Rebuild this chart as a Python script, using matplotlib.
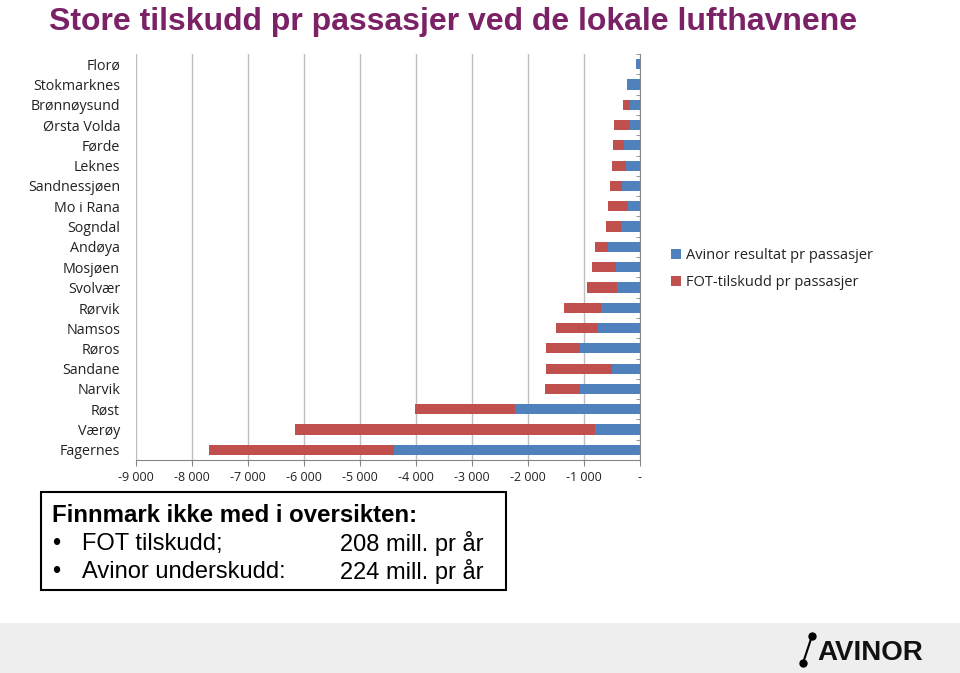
import matplotlib
matplotlib.use("Agg")
import matplotlib.pyplot as plt
from matplotlib.patches import Rectangle
from matplotlib.lines import Line2D
from matplotlib.ticker import FuncFormatter
import numpy as np

airports = ["Florø", "Stokmarknes", "Brønnøysund", "Ørsta Volda", "Førde", "Leknes",
            "Sandnessjøen", "Mo i Rana", "Sogndal", "Andøya", "Mosjøen", "Svolvær",
            "Rørvik", "Namsos", "Røros", "Sandane", "Narvik", "Røst", "Værøy", "Fagernes"]
avinor_result = [-75, -240, -170, -180, -290, -250, -330, -220, -335, -580, -420, -405,
                 -700, -755, -1065, -505, -1065, -2230, -800, -4400]
fot_subsidy = [0, 0, -125, -285, -185, -250, -200, -345, -265, -225, -445, -535,
               -655, -750, -620, -1180, -635, -1785, -5360, -3295]
x_ticks = list(range(-9000, 1, 1000))

BLUE = "#4F81BD"
RED = "#C0504D"
PURPLE = "#7B2266"
W, H = 960, 673

fig = plt.figure(figsize=(9.6, 6.73), dpi=100)

def fx(px):
    return px / W

def fy(py):
    return 1 - py / H

# bottom gray band
fig.patches.append(Rectangle((0, 0), 1, fy(623), transform=fig.transFigure,
                             facecolor="#EEEEEE", edgecolor="none", zorder=0))

# title
fig.text(fx(453), fy(22), "Store tilskudd pr passasjer ved de lokale lufthavnene",
         ha="center", va="center", fontsize=23, fontweight="bold", color=PURPLE,
         family="Liberation Sans")

ax = fig.add_axes([fx(136), fy(460), fx(640) - fx(136), fy(54) - fy(460)])
y = np.arange(len(airports))
ax.barh(y, avinor_result, height=0.5, color=BLUE, label="Avinor resultat pr passasjer", zorder=3)
ax.barh(y, fot_subsidy, left=avinor_result, height=0.5, color=RED,
        label="FOT-tilskudd pr passasjer", zorder=3)

ax.set_ylim(len(airports) - 0.5, -0.5)
ax.set_xlim(-9000, 0)
ax.set_xticks(x_ticks)
ax.xaxis.set_major_formatter(FuncFormatter(
    lambda v, p: "-" if v == 0 else f"{int(v):,}".replace(",", " ")))
ax.set_yticks(y)
ax.set_yticklabels(airports)
ax.set_yticks(np.arange(-0.5, len(airports), 1), minor=True)
ax.tick_params(axis="y", which="major", left=False, right=False, labelsize=10.3,
               pad=8, labelcolor="#222222")
ax.tick_params(axis="y", which="minor", left=False, right=True, direction="in",
               length=3, color="#868686")
ax.tick_params(axis="x", which="major", direction="out", length=4, color="#868686",
               labelsize=9, pad=4, labelcolor="#222222")
for lbl in ax.get_yticklabels() + ax.get_xticklabels():
    lbl.set_family(["Open Sans", "DejaVu Sans"])
ax.grid(axis="x", color="#BFBFBF", linewidth=1, zorder=0)
ax.set_axisbelow(True)
for s in ["top", "left"]:
    ax.spines[s].set_visible(False)
ax.spines["right"].set_color("#868686")
ax.spines["bottom"].set_color("#868686")
ax.set_facecolor("none")

fig.legend(loc="upper left", bbox_to_anchor=(fx(658), fy(235)), frameon=False,
           handlelength=0.7, handleheight=0.7, handletextpad=0.3, labelspacing=0.8,
           prop={"family": "Open Sans", "size": 10.5}, labelcolor="#222222")

# text box
fig.patches.append(Rectangle((fx(41), fy(590)), fx(506) - fx(41), fy(492) - fy(590),
                             transform=fig.transFigure, facecolor="white",
                             edgecolor="black", linewidth=1.5, zorder=2))
fs = 17
fig.text(fx(52), fy(516), "Finnmark ikke med i oversikten:", ha="left", va="center",
         fontsize=17.3, fontweight="bold", family="Liberation Sans", zorder=3)
fig.text(fx(52), fy(544), "•", ha="left", va="center", fontsize=fs, family="Liberation Sans", zorder=3)
fig.text(fx(82), fy(544), "FOT tilskudd;", ha="left", va="center", fontsize=fs,
         family="Liberation Sans", zorder=3)
fig.text(fx(340), fy(544), "208 mill. pr år", ha="left", va="center", fontsize=fs,
         family="Liberation Sans", zorder=3)
fig.text(fx(52), fy(572), "•", ha="left", va="center", fontsize=fs, family="Liberation Sans", zorder=3)
fig.text(fx(82), fy(572), "Avinor underskudd:", ha="left", va="center", fontsize=fs,
         family="Liberation Sans", zorder=3)
fig.text(fx(340), fy(572), "224 mill. pr år", ha="left", va="center", fontsize=fs,
         family="Liberation Sans", zorder=3)

# logo
fig.add_artist(Line2D([fx(803), fx(812)], [fy(663), fy(636)], transform=fig.transFigure,
                      color="black", linewidth=1.5, marker="o", markersize=5))
fig.text(fx(817), fy(653), "AVINOR", ha="left", va="center", fontsize=20,
         fontweight="bold", family="Liberation Sans", color="#111111")

fig.savefig("out.png", dpi=100)
